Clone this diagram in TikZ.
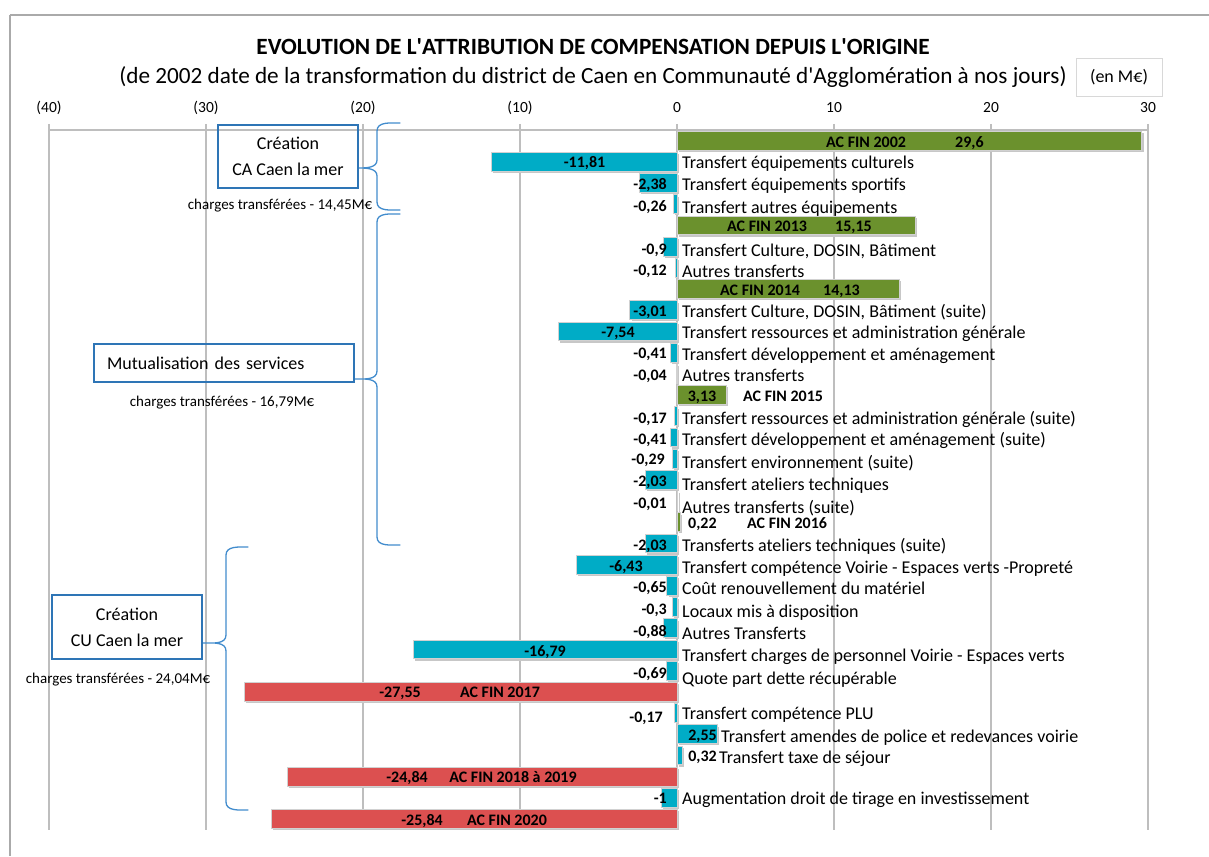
\documentclass[tikz,border=0pt]{standalone}
\usepackage{fontspec}
\setmainfont{Carlito}
\definecolor{acg}{RGB}{107,145,45}
\definecolor{trb}{RGB}{0,172,198}
\definecolor{acr}{RGB}{220,80,80}
\definecolor{bxb}{RGB}{46,117,182}
\definecolor{brb}{RGB}{66,140,205}
\definecolor{gridc}{RGB}{190,190,190}
\definecolor{framec}{RGB}{170,170,170}
\begin{document}
\begin{tikzpicture}[x=1pt,y=-1pt,
  cat/.style={anchor=base west, inner sep=0, font=\fontsize{18}{20}\selectfont},
  val/.style={inner sep=0, font=\bfseries\fontsize{16}{18}\selectfont},
  valr/.style={val, anchor=base east},
  valc/.style={val, anchor=base},
  vall/.style={val, anchor=base west},
  axl/.style={anchor=base, inner sep=0, font=\fontsize{15.5}{17}\selectfont},
  note/.style={anchor=base, inner sep=0, font=\fontsize{15}{17}\selectfont},
  phase/.style={draw=bxb, line width=2.2pt, inner sep=0, align=center, font=\fontsize{18}{26}\selectfont},
  bracepath/.style={draw=brb, line width=1.3pt, line cap=round},
  gridline/.style={draw=gridc, line width=1.3pt}]
\useasboundingbox (0,0) rectangle (1209,856);
% frame
\draw[framec, line width=1.3pt] (10,15) -- (1209,15);
\draw[framec, line width=1.3pt] (10,15) -- (10,856);
% title
\node[anchor=base, inner sep=0, font=\bfseries\fontsize{23.3}{25}\selectfont] (title) at (593,55) {EVOLUTION DE L\textquotesingle ATTRIBUTION DE COMPENSATION DEPUIS L\textquotesingle ORIGINE};
\node[anchor=base, inner sep=0, font=\fontsize{23.2}{25}\selectfont] (subtitle) at (593,84) {(de 2002 date de la transformation du district de Caen en Communauté d\textquotesingle Agglomération à nos jours)};
\node[draw=gridc!60, line width=0.8pt, minimum width=86pt, minimum height=38pt, inner sep=0, font=\fontsize{18}{20}\selectfont] (unit) at (1119,77) {(en M€)};
% grid
\foreach \v/\l [count=\i] in {-40/(40),-30/(30),-20/(20),-10/(10),0/0,10/10,20/20,30/30} {
  \pgfmathsetmacro\gx{677+15.7*\v}
  \draw[gridline] (\gx,124) -- (\gx,830);
  \node[axl] (ax\i) at (\gx,113) {\l};
}
\draw[gridline] (49,130) -- (1148,130);
% bars
\foreach \r/\v/\c in {1/29.6/acg,2/-11.81/trb,3/-2.38/trb,4/-0.26/trb,5/15.15/acg,6/-0.9/trb,7/-0.12/trb,8/14.13/acg,9/-3.01/trb,10/-7.54/trb,11/-0.41/trb,12/-0.04/trb,13/3.13/acg,14/-0.17/trb,15/-0.41/trb,16/-0.29/trb,17/-2.03/trb,18/-0.01/trb,19/0.22/acg,20/-2.03/trb,21/-6.43/trb,22/-0.65/trb,23/-0.3/trb,24/-0.88/trb,25/-16.79/trb,26/-0.69/trb,27/-27.55/acr,28/-0.17/trb,29/2.55/trb,30/0.32/trb,31/-24.84/acr,32/-1/trb,33/-25.84/acr} {
  \pgfmathsetmacro\yc{130+21.2*(\r-0.5)}
  \pgfmathsetmacro\xe{677+15.7*\v}
  \fill[black!22] ({min(\xe,677)+1.8},\yc-9.4+1.8) rectangle ({max(\xe,677)+1.8},\yc+9.4+1.8);
  \filldraw[fill=\c, draw=white!82!black, line width=0.7pt] (\xe,\yc-9.4) rectangle (677,\yc+9.4);
}
% in-bar totals
\node[vall] (t1a) at (826,147.5) {AC FIN 2002};
\node[vall] (t1b) at (955,147.5) {29,6};
\node[vall] (t5a) at (727,231.5) {AC FIN 2013};
\node[vall] (t5b) at (835,231.5) {15,15};
\node[vall] (t8a) at (720,295.5) {AC FIN 2014};
\node[vall] (t8b) at (823,295.5) {14,13};
\node[valc] (t13a) at (702,401.5) {3,13};
\node[vall] (t13b) at (743,401.5) {AC FIN 2015};
\node[vall] (t19a) at (688,528.5) {0,22};
\node[vall] (t19b) at (747,528.5) {AC FIN 2016};
\node[valc] (t27a) at (400,697.5) {-27,55};
\node[valc] (t27b) at (500,697.5) {AC FIN 2017};
\node[valc] (t31a) at (407,782.5) {-24,84};
\node[valc] (t31b) at (513,782.5) {AC FIN 2018 à 2019};
\node[valc] (t33a) at (422,825.5) {-25,84};
\node[valc] (t33b) at (507,825.5) {AC FIN 2020};
% value labels
\node[valc] (v2) at (584.5,167.5) {-11,81};
\node[valr] (v3) at (667,189.5) {-2,38};
\node[valr] (v4) at (667,211.5) {-0,26};
\node[valr] (v6) at (667,254.5) {-0,9};
\node[valr] (v7) at (667,275.5) {-0,12};
\node[valr] (v9) at (667,316.5) {-3,01};
\node[valc] (v10) at (618,337.5) {-7,54};
\node[valr] (v11) at (667,358.5) {-0,41};
\node[valr] (v12) at (667,380.5) {-0,04};
\node[valr] (v14) at (667,423.5) {-0,17};
\node[valr] (v15) at (667,444.5) {-0,41};
\node[valr] (v16) at (665,464.5) {-0,29};
\node[valr] (v17) at (667,486.5) {-2,03};
\node[valr] (v18) at (667,508.5) {-0,01};
\node[valr] (v20) at (667,550.5) {-2,03};
\node[valc] (v21) at (626,571.5) {-6,43};
\node[valr] (v22) at (667,592.5) {-0,65};
\node[valr] (v23) at (667,614.5) {-0,3};
\node[valr] (v24) at (667,636.5) {-0,88};
\node[valc] (v25) at (545,656.5) {-16,79};
\node[valr] (v26) at (667,678.5) {-0,69};
\node[valr] (v28) at (663,722.5) {-0,17};
\node[valr] (v29) at (717,740.5) {2,55};
\node[valr] (v30) at (717,761.5) {0,32};
\node[valr] (v32) at (667,803.5) {-1};
% category labels
\node[cat] (c2) at (682,168) {Transfert équipements culturels};
\node[cat] (c3) at (682,190) {Transfert équipements sportifs};
\node[cat] (c4) at (682,213) {Transfert autres équipements};
\node[cat] (c6) at (682,256) {Transfert Culture, DOSIN, Bâtiment};
\node[cat] (c7) at (682,277) {Autres transferts};
\node[cat] (c9) at (682,317) {Transfert Culture, DOSIN, Bâtiment (suite)};
\node[cat] (c10) at (682,338) {Transfert ressources et administration générale};
\node[cat] (c11) at (682,360) {Transfert développement et aménagement};
\node[cat] (c12) at (682,381) {Autres transferts};
\node[cat] (c14) at (682,424) {Transfert ressources et administration générale (suite)};
\node[cat] (c15) at (682,445) {Transfert développement et aménagement (suite)};
\node[cat] (c16) at (682,468) {Transfert environnement (suite)};
\node[cat] (c17) at (682,490) {Transfert ateliers techniques};
\node[cat] (c18) at (682,513) {Autres transferts (suite)};
\node[cat] (c20) at (682,551) {Transferts ateliers techniques (suite)};
\node[cat] (c21) at (682,573) {Transfert compétence Voirie - Espaces verts -Propreté};
\node[cat] (c22) at (682,594) {Coût renouvellement du matériel};
\node[cat] (c23) at (682,617) {Locaux mis à disposition};
\node[cat] (c24) at (682,639) {Autres Transferts};
\node[cat] (c25) at (682,661) {Transfert charges de personnel Voirie - Espaces verts};
\node[cat] (c26) at (682,684) {Quote part dette récupérable};
\node[cat] (c28) at (682,719) {Transfert compétence PLU};
\node[cat] (c29) at (721,742) {Transfert amendes de police et redevances voirie};
\node[cat] (c30) at (719,763) {Transfert taxe de séjour};
\node[cat] (c32) at (682,804) {Augmentation droit de tirage en investissement};
% phase boxes
\node[phase, minimum width=140pt, minimum height=63pt] (p1) at (288,156.5) {Création\\CA Caen la mer};
\node[note] (n1) at (280,209) {charges transférées - 14,45M€};
\node[phase, minimum width=260pt, minimum height=38pt, align=left, text width=234pt] (p2) at (224,363) {Mutualisation des services};
\node[note] (n2) at (222,406) {charges transférées - 16,79M€};
\node[phase, minimum width=150pt, minimum height=64pt] (p3) at (127,627) {Création\\CU Caen la mer};
\node[note] (n3) at (118,683) {charges transférées - 24,04M€};
% braces
\coordinate (b1tip) at (p1.east |- 0,168);
\coordinate (b2tip) at (p2.east |- 0,379);
\coordinate (b3tip) at (p3.east |- 0,643);
\draw[bracepath] (400,123) to[out=180,in=90] (377,131) -- (377,160) to[out=-90,in=0] (b1tip) to[out=0,in=90] (377,176) -- (377,202) to[out=-90,in=180] (400,210);
\draw[bracepath] (400,214) to[out=180,in=90] (377,222) -- (377,371) to[out=-90,in=0] (b2tip) to[out=0,in=90] (377,387) -- (377,537) to[out=-90,in=180] (400,545);
\draw[bracepath] (248,547) to[out=180,in=90] (226,555) -- (226,635) to[out=-90,in=0] (b3tip) to[out=0,in=90] (226,651) -- (226,802) to[out=-90,in=180] (248,810);
\end{tikzpicture}
\end{document}
